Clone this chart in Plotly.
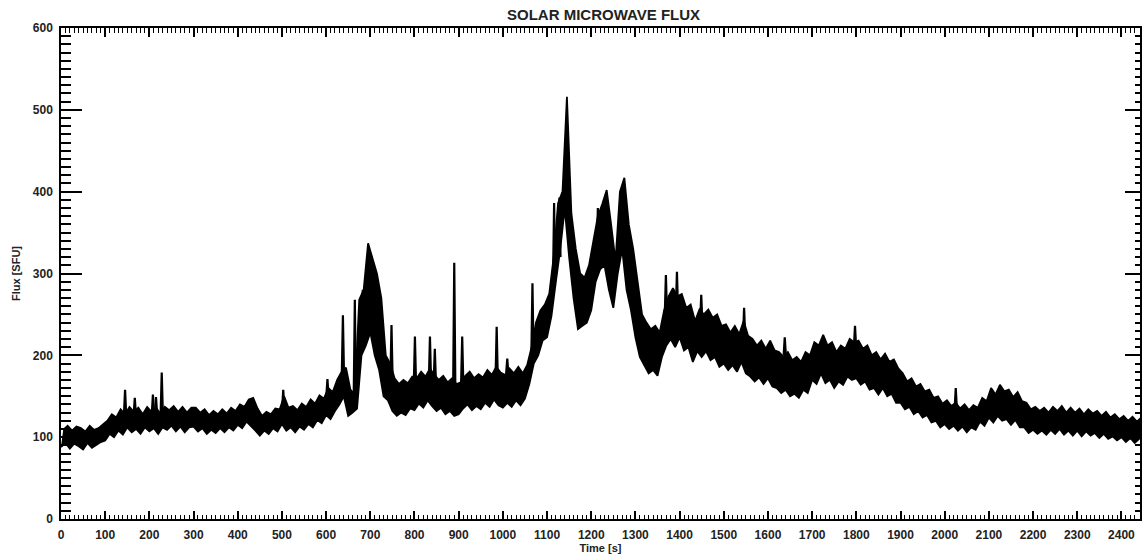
import plotly.graph_objects as go

# Start time of each 10 s block [s]
block_start = list(range(0, 2450, 10))

# Lower edge of the noisy flux band in each 10 s block [SFU]
flux_low = [
    88, 93, 86, 92, 89, 85, 93, 87, 90, 94,            # 0-90
    96, 104, 100, 108, 103, 112, 106, 110, 104, 112,   # 100-190
    107, 111, 104, 112, 109, 114, 107, 113, 106, 112,  # 200-290
    113, 107, 111, 104, 109, 105, 111, 106, 112, 108,  # 300-390
    115, 111, 119, 114, 108, 102, 108, 104, 111, 107,  # 400-490
    116, 108, 112, 106, 113, 109, 116, 112, 121, 117,  # 500-590
    127, 122, 132, 140, 150, 126, 130, 135, 200, 212,  # 600-690
    228, 200, 182, 150, 145, 132, 126, 130, 127, 135,  # 700-790
    133, 141, 136, 145, 138, 132, 136, 128, 132, 126,  # 800-890
    128, 135, 140, 133, 138, 134, 142, 137, 146, 139,  # 900-990
    136, 142, 137, 145, 139, 147, 165, 190, 200, 218,  # 1000-1090
    222, 248, 290, 330, 380, 320, 270, 232, 236, 240,  # 1100-1190
    255, 290, 305, 310, 280, 258, 300, 330, 280, 255,  # 1200-1290
    222, 198, 188, 178, 182, 175, 198, 212, 220, 210,  # 1300-1390
    222, 206, 210, 192, 205, 198, 205, 194, 198, 186,  # 1400-1490
    190, 182, 188, 180, 192, 178, 174, 168, 173, 165,  # 1500-1590
    172, 162, 160, 154, 158, 150, 153, 148, 158, 154,  # 1600-1690
    170, 165, 178, 166, 170, 160, 168, 164, 174, 170,  # 1700-1790
    172, 164, 168, 158, 160, 152, 160, 150, 153, 142,  # 1800-1890
    142, 134, 137, 128, 132, 124, 127, 118, 120, 112,  # 1900-1990
    116, 110, 114, 108, 113, 106, 112, 109, 119, 114,  # 2000-2090
    124, 118, 126, 120, 122, 115, 121, 112, 112, 105,  # 2100-2190
    109, 104, 108, 103, 109, 104, 110, 103, 108, 102,  # 2200-2290
    108, 101, 107, 102, 105, 99, 104, 98, 101, 96,     # 2300-2390
    100, 94, 99, 93, 98,                               # 2400-2440
]

# Upper edge of the noisy flux band in each 10 s block [SFU]
flux_high = [
    109, 114, 108, 113, 111, 107, 114, 109, 111, 116,  # 0-90
    120, 128, 124, 134, 128, 137, 131, 136, 128, 137,  # 100-190
    131, 136, 129, 137, 133, 138, 131, 137, 130, 136,  # 200-290
    136, 130, 134, 127, 132, 128, 134, 129, 136, 132,  # 300-390
    140, 137, 146, 148, 135, 126, 131, 128, 135, 134,  # 400-490
    150, 136, 138, 133, 141, 137, 146, 141, 151, 147,  # 500-590
    160, 155, 170, 180, 185, 158, 152, 268, 280, 337,  # 600-690
    320, 300, 270, 200, 190, 172, 165, 170, 166, 174,  # 700-790
    172, 180, 174, 184, 176, 170, 175, 167, 172, 165,  # 800-890
    167, 175, 180, 172, 177, 173, 182, 176, 186, 179,  # 900-990
    176, 184, 178, 186, 178, 188, 210, 240, 255, 262,  # 1000-1090
    275, 320, 386, 400, 516, 374, 330, 300, 295, 310,  # 1100-1190
    340, 370, 385, 402, 360, 315, 400, 417, 360, 330,  # 1200-1290
    290, 250, 240, 232, 236, 228, 255, 272, 282, 272,  # 1300-1390
    275, 258, 262, 242, 256, 250, 256, 246, 250, 236,  # 1400-1490
    238, 228, 236, 226, 242, 224, 220, 212, 218, 208,  # 1500-1590
    218, 206, 204, 198, 204, 194, 198, 192, 204, 200,  # 1600-1690
    216, 212, 225, 212, 216, 204, 212, 208, 220, 216,  # 1700-1790
    218, 208, 212, 200, 204, 195, 202, 192, 195, 184,  # 1800-1890
    178, 168, 172, 162, 165, 156, 158, 148, 150, 141,  # 1900-1990
    145, 138, 142, 135, 140, 133, 139, 136, 148, 144,  # 2000-2090
    160, 152, 164, 156, 158, 149, 155, 144, 142, 134,  # 2100-2190
    137, 132, 136, 130, 137, 132, 138, 130, 136, 130,  # 2200-2290
    135, 128, 134, 129, 132, 126, 131, 124, 128, 122,  # 2300-2390
    126, 120, 125, 119, 124,                           # 2400-2440
]

# Short isolated bursts: time [s], peak flux [SFU], flux at burst foot [SFU]
burst_time = [145, 167, 208, 215, 228, 503, 603, 638, 665, 683, 748, 801,
              835, 846, 890, 908, 986, 1010, 1067, 1116, 1128, 1215,
              1369, 1394, 1449, 1546, 1638, 1797, 2025]
burst_peak = [158, 148, 152, 149, 179, 158, 171, 249, 268, 280, 237, 223,
              223, 208, 313, 223, 235, 196, 288, 386, 393, 380,
              298, 302, 274, 258, 222, 236, 160]
burst_foot = [128, 128, 128, 128, 128, 135, 150, 175, 150, 230, 170, 165,
              168, 168, 160, 165, 172, 178, 200, 290, 320, 320,
              250, 255, 240, 222, 200, 210, 135]

x_ticks = list(range(0, 2500, 100))
y_ticks = list(range(0, 700, 100))

FONT = "Liberation Sans, Arial, Helvetica, sans-serif"
INK = "#000000"
TXT = "#222222"

# Closed outline of the noise band: upper edge forward, lower edge back
band_x = [t + 5 for t in block_start] + [t for t in reversed(block_start)]
band_y = list(flux_high) + list(reversed(flux_low))

# Narrow spikes for the isolated bursts
spike_x, spike_y = [], []
for t, pk, ft in zip(burst_time, burst_peak, burst_foot):
    spike_x += [t - 2.5, t, t + 2.5, None]
    spike_y += [ft, pk, ft, None]

fig = go.Figure()
fig.add_trace(go.Scatter(
    x=band_x, y=band_y, mode="lines", fill="toself", fillcolor=INK,
    line=dict(color=INK, width=1.8),
    hoverinfo="skip", showlegend=False,
))
fig.add_trace(go.Scatter(
    x=spike_x, y=spike_y, mode="lines", connectgaps=False,
    line=dict(color=INK, width=2.2),
    hoverinfo="skip", showlegend=False,
))
# Empty trace that carries the mirrored top/right axes
fig.add_trace(go.Scatter(
    x=[None], y=[None], xaxis="x2", yaxis="y2",
    hoverinfo="skip", showlegend=False,
))

X_RANGE = [0, 2442]
Y_RANGE = [0, 600]

fig.update_layout(
    width=1142, height=557,
    margin=dict(l=61, r=2, t=28, b=38),
    paper_bgcolor="white", plot_bgcolor="white",
    font=dict(family=FONT, size=12, color=TXT, weight="bold"),
    title=dict(
        text="SOLAR MICROWAVE FLUX",
        x=0.5285, xanchor="center", y=0.973, yanchor="middle",
        font=dict(family=FONT, size=15, color=TXT, weight="bold"),
    ),
    xaxis=dict(
        range=X_RANGE, tickvals=x_ticks, ticktext=[str(v) for v in x_ticks],
        ticks="inside", ticklen=8, tickwidth=1.5, tickcolor=INK,
        minor=dict(dtick=10, tick0=0, ticks="inside", ticklen=4,
                   tickwidth=1, tickcolor=INK),
        showline=True, linecolor=INK, linewidth=1.5,
        showgrid=False, zeroline=False,
        ticklabelstandoff=4,
        tickfont=dict(family=FONT, size=12, color=TXT, weight="bold"),
        title=dict(text="Time [s]", standoff=2,
                   font=dict(family=FONT, size=11, color=TXT, weight="bold")),
    ),
    yaxis=dict(
        range=Y_RANGE, tickvals=y_ticks, ticktext=[str(v) for v in y_ticks],
        ticks="inside", ticklen=21, tickwidth=1.5, tickcolor=INK,
        minor=dict(dtick=10, tick0=0, ticks="inside", ticklen=10,
                   tickwidth=1.5, tickcolor=INK),
        showline=True, linecolor=INK, linewidth=1.5,
        showgrid=False, zeroline=False,
        ticklabelstandoff=4,
        tickfont=dict(family=FONT, size=12, color=TXT, weight="bold"),
        title=dict(text="Flux [SFU]", standoff=10,
                   font=dict(family=FONT, size=11, color=TXT, weight="bold")),
    ),
    xaxis2=dict(
        range=X_RANGE, overlaying="x", side="top", anchor="y2",
        tickvals=x_ticks, showticklabels=False,
        ticks="inside", ticklen=9, tickwidth=1.5, tickcolor=INK,
        minor=dict(dtick=10, tick0=0, ticks="inside", ticklen=5,
                   tickwidth=1, tickcolor=INK),
        showline=True, linecolor=INK, linewidth=1.5,
        showgrid=False, zeroline=False,
    ),
    yaxis2=dict(
        range=Y_RANGE, overlaying="y", side="right", anchor="x2",
        tickvals=y_ticks, showticklabels=False,
        ticks="inside", ticklen=15, tickwidth=1.5, tickcolor=INK,
        minor=dict(dtick=10, tick0=0, ticks="inside", ticklen=5,
                   tickwidth=1.5, tickcolor=INK),
        showline=True, linecolor=INK, linewidth=1.5,
        showgrid=False, zeroline=False,
    ),
)

fig.write_html("out.html")
